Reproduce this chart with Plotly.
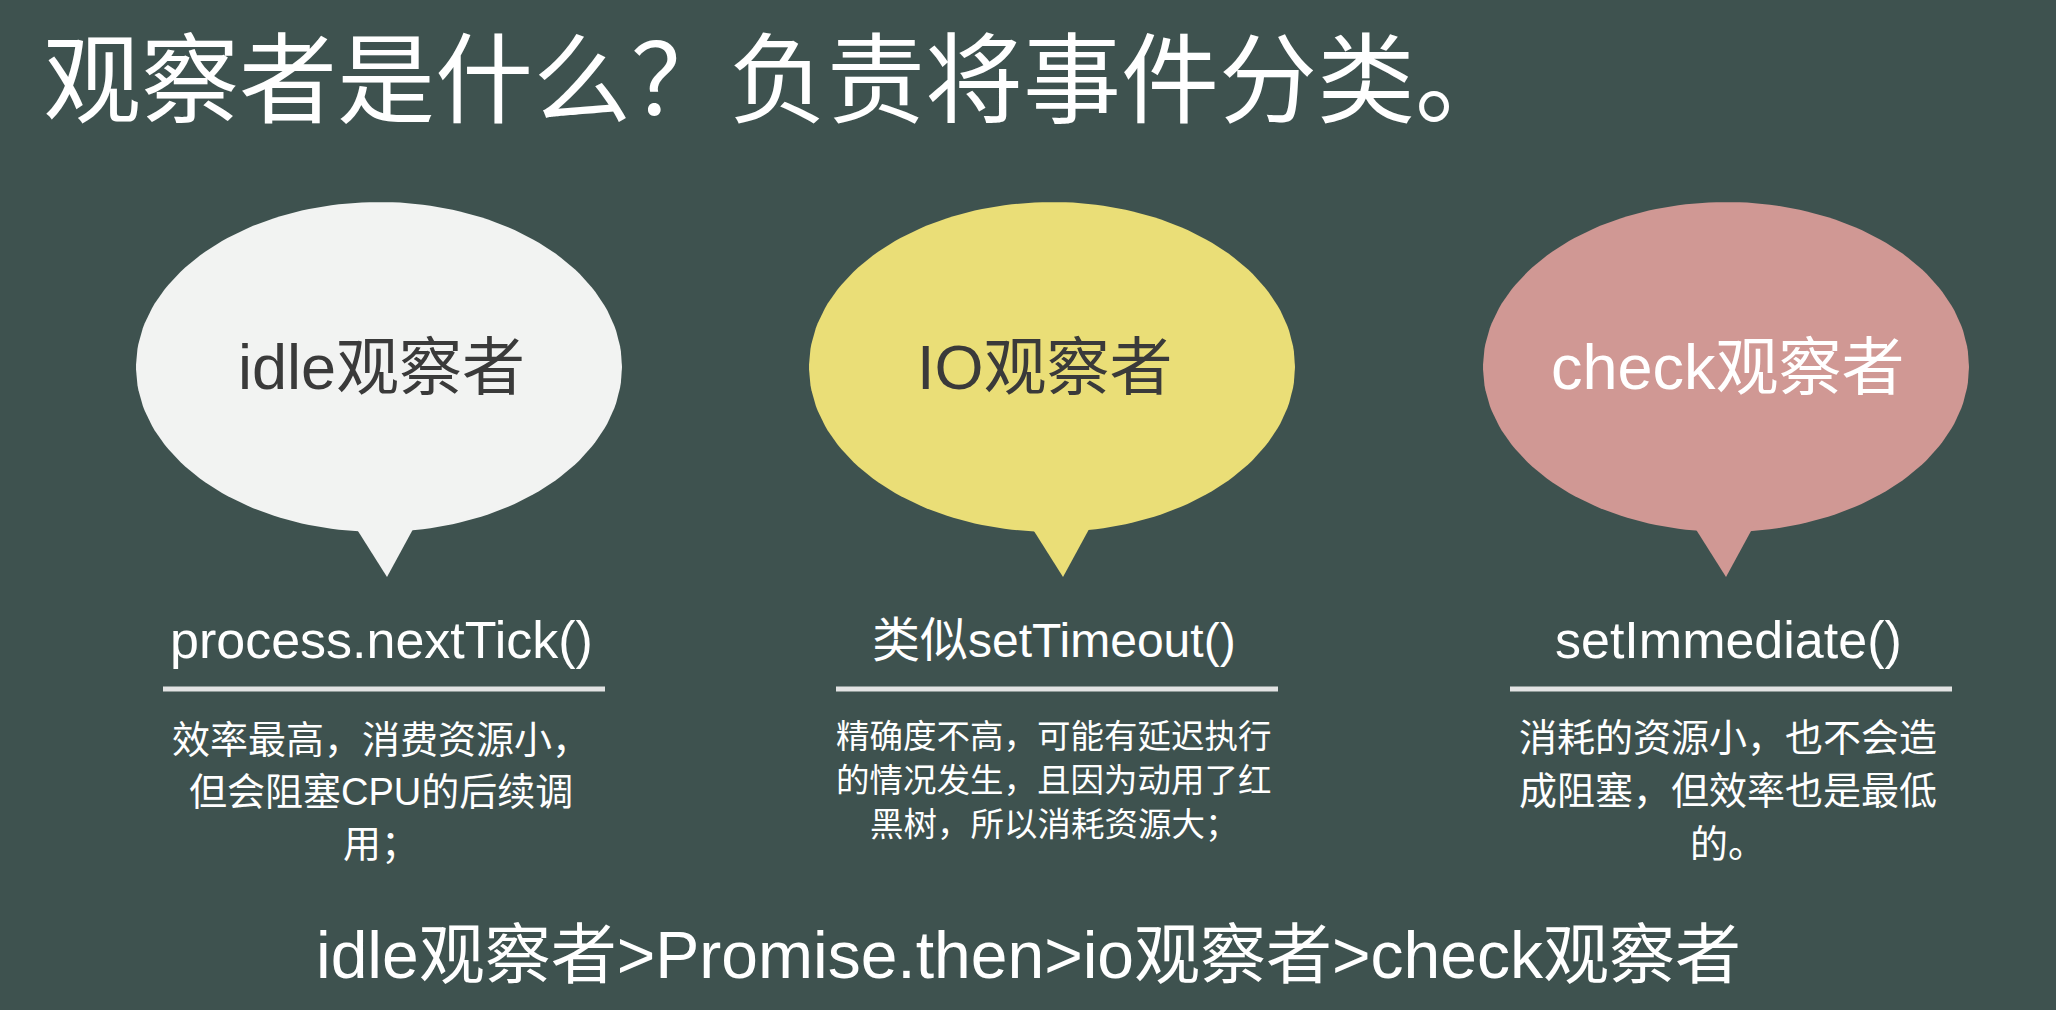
import numpy as np
import plotly.graph_objects as go

# Slide content
title = "观察者是什么？负责将事件分类。"
observers = ["idle观察者", "IO观察者", "check观察者"]
apis = ["process.nextTick()", "类似setTimeout()", "setImmediate()"]
notes = [
    ["效率最高，消费资源小，", "但会阻塞CPU的后续调", "用；"],
    ["精确度不高，可能有延迟执行", "的情况发生，且因为动用了红", "黑树，所以消耗资源大；"],
    ["消耗的资源小，也不会造", "成阻塞，但效率也是最低", "的。"],
]
order_line = "idle观察者>Promise.then>io观察者>check观察者"

bubble_colors = ["#f2f3f2", "#eade77", "#d09894"]
label_colors = ["#3a3a3a", "#3a3a3a", "#ffffff"]

# Layout of the three columns
col_x = [381, 1054, 1728]
label_x = [381, 1045, 1728]
bubble_y = 367
tail_x = [387, 1063, 1726]
api_size = [52, 48, 52]
note_size = [38, 33.5, 38]
note_top = [740, 736, 738]
note_gap = [52, 44, 53]

BG = "#3e524f"
FONT = "Liberation Sans, Noto Sans CJK SC, sans-serif"
CJK = "Noto Sans CJK SC, Liberation Sans, sans-serif"


def main():
    fig = go.Figure()

    # speech bubbles: ellipse + small tail
    t = np.linspace(0, 2 * np.pi, 200)
    for i in range(3):
        cx = col_x[i] - 2
        ex = cx + 243 * np.cos(t)
        ey = bubble_y + 165 * np.sin(t)
        fig.add_trace(go.Scatter(x=ex, y=ey, fill="toself", mode="lines",
                                 line=dict(width=0, color=bubble_colors[i]),
                                 fillcolor=bubble_colors[i], hoverinfo="skip"))
        tx = tail_x[i]
        fig.add_trace(go.Scatter(x=[tx - 36, tx + 31, tx, tx - 36],
                                 y=[520, 520, 577, 520], fill="toself", mode="lines",
                                 line=dict(width=0, color=bubble_colors[i]),
                                 fillcolor=bubble_colors[i], hoverinfo="skip"))
        # chalk underline
        fig.add_trace(go.Scatter(x=[col_x[i] - 218, col_x[i] + 224], y=[689, 689],
                                 mode="lines", line=dict(width=5, color="rgba(240,240,240,0.92)"),
                                 hoverinfo="skip"))

    anns = []
    # title box pinned to the top edge so nothing is clipped
    anns.append(dict(x=42, y=0, text=title, xanchor="left", yanchor="top",
                     borderpad=0, font=dict(size=98, color="white", family=CJK)))
    for i in range(3):
        anns.append(dict(x=label_x[i], y=bubble_y, text=observers[i], xanchor="center",
                         yanchor="middle", font=dict(size=63, color=label_colors[i], family=FONT)))
        anns.append(dict(x=col_x[i], y=640, text=apis[i], xanchor="center", yanchor="middle",
                         font=dict(size=api_size[i], color="white", family=FONT)))
        for j, line in enumerate(notes[i]):
            anns.append(dict(x=col_x[i], y=note_top[i] + j * note_gap[i], text=line,
                             xanchor="center", yanchor="middle",
                             font=dict(size=note_size[i], color="white", family=FONT)))
    anns.append(dict(x=1028, y=955, text=order_line, xanchor="center", yanchor="middle",
                     font=dict(size=66, color="white", family=FONT)))
    for a in anns:
        a.update(xref="x", yref="y", showarrow=False)

    fig.update_layout(
        width=2056, height=1010,
        margin=dict(l=0, r=0, t=0, b=0),
        paper_bgcolor=BG, plot_bgcolor=BG,
        showlegend=False,
        annotations=anns,
        xaxis=dict(range=[0, 2056], visible=False, fixedrange=True),
        yaxis=dict(range=[1010, 0], visible=False, fixedrange=True),
    )
    fig.write_html("out.html", config={"displayModeBar": False},
                   post_script="document.body.style.margin='0';document.body.style.overflow='hidden';")


if __name__ == "__main__":
    main()
